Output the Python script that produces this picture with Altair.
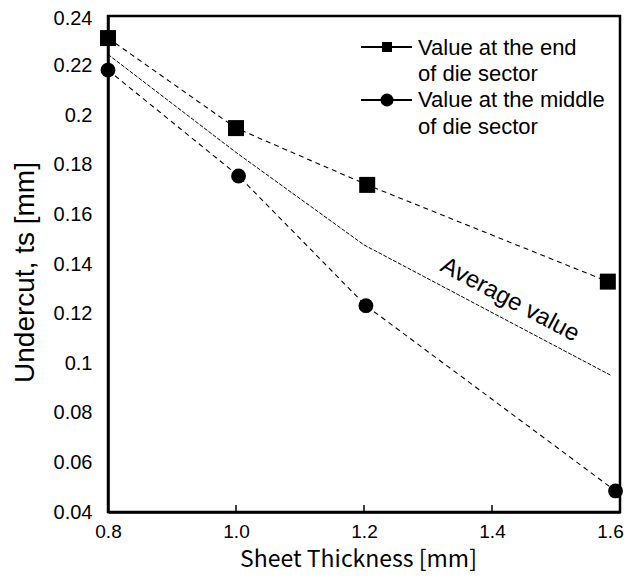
import altair as alt
import pandas as pd

# --- data ---
thick_end = [0.8, 1.0, 1.205, 1.581]
val_end = [0.2311, 0.1948, 0.1719, 0.1329]
thick_mid = [0.8, 1.004, 1.203, 1.593]
val_mid = [0.2182, 0.1755, 0.1232, 0.0485]
thick_avg = [0.8, 1.0, 1.2, 1.585]
val_avg = [0.2245, 0.185, 0.1477, 0.0952]
x_ticks = [0.8, 1.0, 1.2, 1.4, 1.6]
y_ticks = [0.04, 0.06, 0.08, 0.10, 0.12, 0.14, 0.16, 0.18, 0.20, 0.22, 0.24]
inner_ticks = [1.0, 1.2, 1.4]
avg_label = "Average value"
avg_label_pos = [1.428, 0.1255]
legend_labels = ["Value at the end", "of die sector", "Value at the middle", "of die sector"]

W, H = 512, 496
FONT = "Liberation Sans"

xscale = alt.Scale(domain=[0.8, 1.6], nice=False, zero=False)
yscale = alt.Scale(domain=[0.04, 0.24], nice=False, zero=False)

df_end = pd.DataFrame({"x": thick_end, "y": val_end})
df_mid = pd.DataFrame({"x": thick_mid, "y": val_mid})
df_avg = pd.DataFrame({"x": thick_avg, "y": val_avg})

X = alt.X("x:Q", scale=xscale, axis=alt.Axis(
    values=x_ticks, format=".1f", ticks=False, grid=False, labelFlush=False,
    labelFontSize=19, labelFont=FONT, labelColor="black", labelPadding=10,
    labelOffset={"condition": {"test": "datum.value >= 1.59", "value": -10}, "value": 0},
    domainColor="black", domainWidth=2.5,
    title="Sheet Thickness [mm]", titleFont="Noto Sans CJK JP", titleFontSize=23,
    titleFontWeight="normal", titleColor="black",
    titleX=250, titleY=47, titleAlign="center", titleBaseline="middle"))
Y = alt.Y("y:Q", scale=yscale, axis=alt.Axis(
    values=y_ticks, format=".2~f", ticks=False, grid=False, labelFlush=False,
    labelFontSize=20, labelFont=FONT, labelColor="black", labelPadding=16,
    labelOffset={"condition": {"test": "datum.value >= 0.239", "value": 2}, "value": 0},
    domainColor="black", domainWidth=2.5,
    title="Undercut, ts [mm]", titleFont=FONT, titleFontSize=28,
    titleFontWeight="normal", titleColor="black",
    titleX=-83, titleY=256, titleAngle=270, titleAlign="center", titleBaseline="middle"))

line_end = alt.Chart(df_end).mark_line(color="black", strokeWidth=1.1, strokeDash=[5, 4]).encode(x=X, y=Y)
pts_end = alt.Chart(df_end).mark_point(shape="square", filled=True, color="black", size=256, opacity=1).encode(x=X, y=Y)
line_mid = alt.Chart(df_mid).mark_line(color="black", strokeWidth=1.1, strokeDash=[5, 4]).encode(x=X, y=Y)
pts_mid = alt.Chart(df_mid).mark_point(shape="circle", filled=True, color="black", size=220, opacity=1).encode(x=X, y=Y)
line_avg = alt.Chart(df_avg).mark_line(color="black", strokeWidth=1.0, strokeDash=[4, 1.5]).encode(x=X, y=Y)

txt_avg = alt.Chart(pd.DataFrame({"x": [avg_label_pos[0]], "y": [avg_label_pos[1]], "t": [avg_label]})).mark_text(
    font=FONT, fontSize=24, angle=28, align="center", baseline="middle", color="black"
).encode(x=X, y=Y, text="t:N")

ticks = alt.Chart(pd.DataFrame({"x": inner_ticks})).mark_rule(color="black", strokeWidth=1.5).encode(
    x=X, y=alt.value(H - 7), y2=alt.value(H))

# manual legend (pixel positions within the plot area)
leg_lines = alt.Chart(pd.DataFrame({"x1": [253, 253], "x2": [304, 304], "y": [31, 84]})).mark_rule(
    color="black", strokeWidth=2).encode(
    x=alt.X("x1:Q", scale=None), x2="x2:Q", y=alt.Y("y:Q", scale=None))
leg_sq = alt.Chart(pd.DataFrame({"x": [279], "y": [31]})).mark_point(
    shape="square", filled=True, color="black", size=100, opacity=1).encode(
    x=alt.X("x:Q", scale=None), y=alt.Y("y:Q", scale=None))
leg_ci = alt.Chart(pd.DataFrame({"x": [279], "y": [84]})).mark_point(
    shape="circle", filled=True, color="black", size=170, opacity=1).encode(
    x=alt.X("x:Q", scale=None), y=alt.Y("y:Q", scale=None))
leg_txt = alt.Chart(pd.DataFrame({"x": [310] * 4, "y": [32, 58, 84, 111], "t": legend_labels})).mark_text(
    font=FONT, fontSize=22, align="left", baseline="middle", color="black").encode(
    x=alt.X("x:Q", scale=None), y=alt.Y("y:Q", scale=None), text="t:N")

chart = alt.layer(
    line_end, line_mid, line_avg, pts_end, pts_mid, txt_avg, ticks,
    leg_lines, leg_sq, leg_ci, leg_txt
).properties(
    width=W, height=H,
    autosize=alt.AutoSizeParams(type="none"),
    padding={"left": 100, "top": 8, "right": 5, "bottom": 60},
    background="white",
).configure_view(stroke="black", strokeWidth=2.5)

chart.save("out.html", embed_options={"renderer": "svg", "actions": False})
